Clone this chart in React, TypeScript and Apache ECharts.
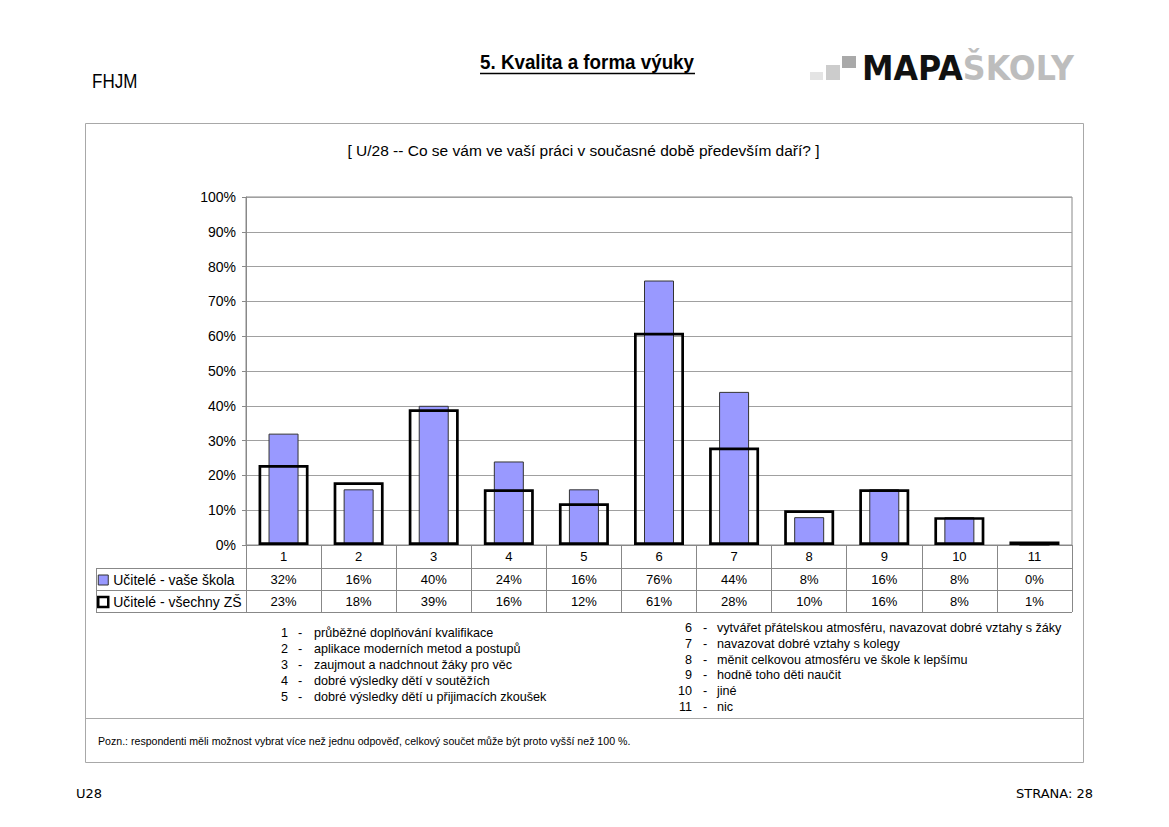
import React, { useEffect, useRef } from "react";
import * as echarts from "echarts";

const categories = ["1", "2", "3", "4", "5", "6", "7", "8", "9", "10", "11"];
const ownSchool = [32, 16, 40, 24, 16, 76, 44, 8, 16, 8, 0];
const allSchools = [23, 18, 39, 16, 12, 61, 28, 10, 16, 8, 1];
const seriesNames = ["Učitelé - vaše škola", "Učitelé - všechny ZŠ"];
const descriptions = [
  "průběžné doplňování kvalifikace",
  "aplikace moderních metod a postupů",
  "zaujmout a nadchnout žáky pro věc",
  "dobré výsledky dětí v soutěžích",
  "dobré výsledky dětí u přijimacích zkoušek",
  "vytvářet přátelskou atmosféru, navazovat dobré vztahy s žáky",
  "navazovat dobré vztahy s kolegy",
  "měnit celkovou atmosféru ve škole k lepšímu",
  "hodně toho děti naučit",
  "jiné",
  "nic",
];
const yTicks = { min: 0, max: 100, interval: 10 };

const SANS = "'Liberation Sans', Arial, sans-serif";
const COND = "'DejaVu Sans', sans-serif";
const GRAY = "#888888";

export default function App() {
  const ref = useRef<HTMLDivElement>(null);
  useEffect(() => {
    if (!ref.current) return;
    const chart = echarts.init(ref.current, null, { renderer: "svg" });

    const descGraphics: any[] = [];
    descriptions.forEach((d, i) => {
      const left = i < 5;
      const y = left ? 633 + i * 16 : 628 + (i - 5) * 15.8;
      const nx = left ? 288 : 692;
      const dx = left ? 300 : 705;
      const tx = left ? 314 : 717;
      const st = { fontFamily: SANS, fontSize: 12.6, fill: "#000", verticalAlign: "middle" };
      descGraphics.push(
        { type: "text", x: nx, y, style: { ...st, text: categories[i], align: "right" } },
        { type: "text", x: dx, y, style: { ...st, text: "-", align: "center" } },
        { type: "text", x: tx, y, style: { ...st, text: d, align: "left" } }
      );
    });

    const tableAxis = (offset: number, vals: number[]) => ({
      type: "category",
      data: categories,
      position: "bottom",
      gridIndex: 0,
      offset,
      axisLine: { show: false },
      axisTick: { show: false },
      axisLabel: {
        margin: 5,
        fontFamily: SANS,
        fontSize: 13,
        color: "#000",
        interval: 0,
        formatter: (_v: string, idx: number) => vals[idx] + "%",
      },
    });

    chart.setOption({
      animation: false,
      backgroundColor: "#ffffff",
      grid: {
        left: 246,
        right: 97,
        top: 197,
        bottom: 282,
        show: true,
        borderColor: GRAY,
        borderWidth: 1,
      },
      legend: {
        orient: "vertical",
        left: 97,
        top: 573,
        padding: 0,
        itemWidth: 10,
        itemHeight: 10,
        itemGap: 8,
        selectedMode: false,
        textStyle: { fontFamily: SANS, fontSize: 14, color: "#000" },
        data: [
          { name: seriesNames[0], icon: "rect", itemStyle: { color: "#9999ff", borderColor: "#333", borderWidth: 1 } },
          { name: seriesNames[1], icon: "rect", itemStyle: { color: "#fff", borderColor: "#000", borderWidth: 2.5 } },
        ],
      },
      xAxis: [
        {
          type: "category",
          data: categories,
          position: "bottom",
          axisLine: { show: true, lineStyle: { color: GRAY } },
          axisTick: { show: true, length: 67, interval: 0, lineStyle: { color: GRAY } },
          axisLabel: { margin: 5, fontFamily: SANS, fontSize: 13, color: "#000", interval: 0 },
        },
        { type: "category", data: categories, show: false },
        tableAxis(23, ownSchool),
        tableAxis(45, allSchools),
      ],
      yAxis: {
        type: "value",
        min: yTicks.min,
        max: yTicks.max,
        interval: yTicks.interval,
        axisLine: { show: true, lineStyle: { color: GRAY } },
        axisTick: { show: true, length: 4, lineStyle: { color: GRAY } },
        axisLabel: { formatter: "{value}%", margin: 10, fontFamily: SANS, fontSize: 14, color: "#000" },
        splitLine: { show: true, lineStyle: { color: "#a0a0a0", width: 1 } },
      },
      series: [
        {
          name: seriesNames[0],
          type: "bar",
          xAxisIndex: 0,
          data: ownSchool,
          barWidth: 30,
          itemStyle: { color: "#9999ff", borderColor: "#333333", borderWidth: 1 },
          z: 2,
        },
        {
          name: seriesNames[1],
          type: "bar",
          xAxisIndex: 1,
          data: allSchools,
          barWidth: 50,
          itemStyle: { color: "rgba(0,0,0,0)", borderColor: "#000000", borderWidth: 2.7 },
          z: 3,
        },
      ],
      graphic: [
        {
          type: "rect",
          shape: { x: 85.5, y: 123.5, width: 998, height: 639 },
          style: { fill: "none", stroke: "#a8a8a8", lineWidth: 1 },
          z: -1,
        },
        { type: "line", shape: { x1: 85, y1: 718.5, x2: 1083, y2: 718.5 }, style: { stroke: "#a8a8a8", lineWidth: 1 } },
        { type: "line", shape: { x1: 96, y1: 568.5, x2: 1072, y2: 568.5 }, style: { stroke: GRAY, lineWidth: 1 } },
        { type: "line", shape: { x1: 96, y1: 590.5, x2: 1072, y2: 590.5 }, style: { stroke: GRAY, lineWidth: 1 } },
        { type: "line", shape: { x1: 96, y1: 612.5, x2: 1072, y2: 612.5 }, style: { stroke: GRAY, lineWidth: 1 } },
        { type: "line", shape: { x1: 96.5, y1: 568, x2: 96.5, y2: 613 }, style: { stroke: GRAY, lineWidth: 1 } },
        {
          type: "text",
          x: 583.5,
          y: 150,
          style: {
            text: "[ U/28 -- Co se vám ve vaší práci v současné době především daří? ]",
            fontFamily: SANS,
            fontSize: 15.5,
            fill: "#000",
            align: "center",
            verticalAlign: "middle",
          },
        },
        {
          type: "text",
          x: 98,
          y: 741,
          style: {
            text: "Pozn.: respondenti měli možnost vybrat více než jednu odpověď, celkový součet může být proto vyšší než 100 %.",
            fontFamily: SANS,
            fontSize: 10.6,
            fill: "#000",
            align: "left",
            verticalAlign: "middle",
          },
        },
        ...descGraphics,
        {
          type: "text",
          x: 92,
          y: 81,
          scaleX: 0.85,
          style: { text: "FHJM", fontFamily: SANS, fontSize: 20, fill: "#000", align: "left", verticalAlign: "middle" },
        },
        {
          type: "text",
          x: 480,
          y: 62,
          scaleX: 0.94,
          style: {
            text: "5. Kvalita a forma výuky",
            fontFamily: SANS,
            fontSize: 20,
            fontWeight: "bold",
            fill: "#000",
            align: "left",
            verticalAlign: "middle",
          },
        },
        { type: "line", shape: { x1: 480, y1: 73.5, x2: 695, y2: 73.5 }, style: { stroke: "#000", lineWidth: 1.5 } },
        { type: "rect", shape: { x: 810, y: 72, width: 13, height: 8 }, style: { fill: "#e4e4e4" } },
        { type: "rect", shape: { x: 826, y: 65, width: 14, height: 15 }, style: { fill: "#cccccc" } },
        { type: "rect", shape: { x: 842, y: 56, width: 14, height: 12 }, style: { fill: "#a9a9a9" } },
        {
          type: "text",
          x: 862,
          y: 69,
          scaleX: 0.96,
          style: {
            text: "{a|MAPA}{b|ŠKOLY}",
            align: "left",
            verticalAlign: "middle",
            rich: {
              a: { fontFamily: COND, fontSize: 33, fontWeight: "bold", fill: "#111", color: "#111" },
              b: { fontFamily: COND, fontSize: 33, fontWeight: "bold", fill: "#bdbdbd", color: "#bdbdbd" },
            },
          },
        },
        {
          type: "text",
          x: 76,
          y: 793,
          style: { text: "U28", fontFamily: COND, fontSize: 13, fill: "#000", align: "left", verticalAlign: "middle" },
        },
        {
          type: "text",
          x: 1093,
          y: 793,
          style: { text: "STRANA: 28", fontFamily: COND, fontSize: 13, fill: "#000", align: "right", verticalAlign: "middle" },
        },
      ],
    });
    return () => chart.dispose();
  }, []);

  return (
    <div
      ref={ref}
      style={{ position: "fixed", left: 0, top: 0, width: 1169, height: 827, background: "#fff" }}
    />
  );
}
